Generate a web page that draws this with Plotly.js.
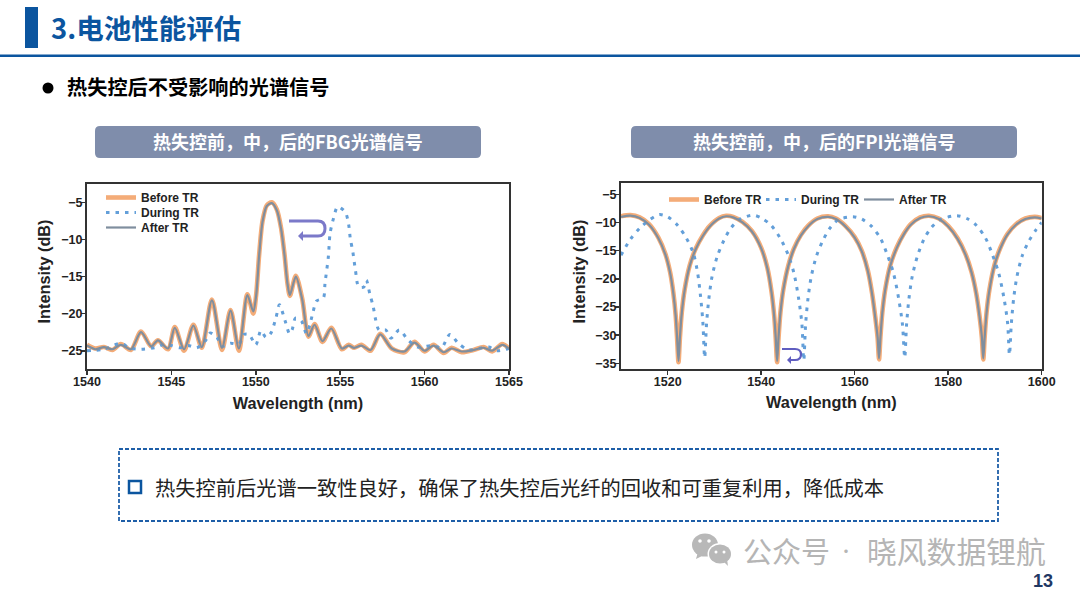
<!DOCTYPE html>
<html>
<head>
<meta charset="utf-8">
<script src="https://cdn.plot.ly/plotly-3.0.1.min.js"></script>
<style>
html, body { margin: 0; padding: 0; background: #fff; }
#chart { width: 1080px; height: 594px; }
</style>
</head>
<body>
<div id="chart"></div>
<script>
// FBG spectra
var fbgWave = [1540,1540.5,1541,1541.5,1542,1542.6,1543.2,1543.8,1544.2,1544.8,1545.2,1545.75,1546.3,1546.8,1547.4,1548,1548.5,1549,1549.5,1549.85,1550.02,1550.2,1550.4,1550.65,1550.95,1551.25,1551.5,1551.7,1551.88,1552.02,1552.37,1552.75,1553.12,1553.48,1553.95,1554.47,1555.1,1555.5,1555.83,1556.25,1556.8,1557.37,1558.06,1558.8,1559.4,1560,1560.53,1561.13,1561.6,1562.2,1562.9,1563.5,1564,1564.6,1565];
var fbgBefore = [-24.2,-24.7,-24.5,-24.9,-24.1,-24.9,-22.4,-24.4,-23.6,-24.8,-21.8,-25,-21.5,-24.6,-18.1,-24.9,-19.5,-25,-17.4,-20,-17.5,-12,-7.5,-5.4,-5,-6,-8.5,-12,-16,-17.6,-14.9,-18,-23.1,-21.4,-23.8,-21.9,-24.8,-24.2,-24.6,-24.2,-25,-22.7,-24.7,-25.2,-23.8,-25.1,-24.2,-25.3,-24.6,-25.2,-24.9,-24.5,-25.1,-24.1,-24.7];
var fbgAfter = [-24.3,-24.8,-24.5,-24.8,-24.2,-24.8,-22.5,-24.4,-23.6,-24.7,-21.9,-24.8,-21.6,-24.5,-18.2,-24.6,-19.6,-24.7,-17.5,-19.7,-17.6,-12.1,-7.6,-5.5,-5.1,-6.1,-8.6,-12.1,-16,-17.5,-15,-18.1,-23,-21.5,-23.7,-22,-24.7,-24.3,-24.6,-24.3,-24.9,-22.8,-24.7,-25.1,-23.9,-25,-24.3,-25.2,-24.7,-25.1,-24.9,-24.6,-25,-24.2,-24.7];
var fbgDuringWave = [1540,1541,1542,1542.5,1543,1544,1544.5,1545,1545.5,1546,1546.5,1547,1547.3,1547.7,1548,1548.5,1549,1549.3,1549.6,1550,1550.3,1550.6,1550.9,1551.2,1551.4,1551.74,1552,1552.15,1552.35,1552.7,1553,1553.2,1553.4,1553.6,1554,1554.1,1554.3,1554.4,1554.6,1554.85,1555.3,1555.5,1555.6,1555.75,1555.9,1556.1,1556.4,1556.55,1556.75,1556.95,1557.1,1557.3,1557.7,1558,1558.5,1559,1559.6,1560.5,1561,1561.5,1562,1562.6,1563.2,1563.8,1564.3,1565];
var fbgDuring = [-25,-24.8,-24,-24.6,-24.8,-24.6,-24.2,-24.3,-24.6,-24.3,-24.6,-23.7,-22.6,-23.2,-24.4,-24,-24.1,-22.8,-22.8,-24.2,-22.3,-23.2,-22.6,-20.5,-18.8,-21,-22.7,-22.2,-20.6,-21,-22.7,-21.5,-19.7,-18.3,-17.9,-15.9,-12.3,-9.2,-7.2,-5.6,-6.3,-8,-9.9,-11.7,-14.1,-16.4,-16.4,-15.5,-17.3,-19,-20.8,-22.2,-22.2,-23.3,-22.2,-23.5,-24.5,-24.3,-24.6,-22.8,-24,-24.9,-24.7,-24.5,-25,-24.7];

// FPI spectra
var fpiWave = [1510,1512,1514,1516,1518,1519.5,1520.5,1521.2,1521.7,1522,1522.3,1522.6,1523,1523.6,1524.7,1526,1527.5,1529,1531,1532.5,1534,1536,1538,1540,1541.3,1542.2,1542.8,1543.1,1543.4,1543.7,1544.1,1544.7,1545.8,1547,1548.5,1550,1552,1554.3,1556,1558,1560,1561.5,1562.8,1563.7,1564.4,1564.9,1565.2,1565.5,1565.9,1566.5,1567.6,1569,1570.5,1572,1574,1575.9,1578,1580,1582,1583.7,1585,1586,1586.7,1587.2,1587.5,1587.8,1588.2,1588.8,1589.9,1591.2,1592.7,1594.5,1596.5,1598.5,1600];
var fpiBefore = [-8.9,-8.7,-9.1,-10.3,-12.7,-15.6,-18.8,-22.5,-26.5,-30.5,-34.8,-30.5,-26,-22,-17.6,-14.6,-12.3,-10.6,-9.2,-8.8,-9,-9.9,-11.5,-14.5,-18,-22.3,-26.8,-30.5,-34.8,-30.5,-26,-22,-17.6,-14.6,-12.2,-10.6,-9.3,-8.9,-9.3,-10.6,-12.6,-15,-18.5,-22.5,-26.8,-30.5,-34.3,-30.3,-26,-22,-17.6,-14.4,-12,-10.3,-9.1,-8.8,-9.3,-10.6,-12.8,-15.6,-18.8,-22.6,-26.6,-30.4,-34.3,-30.3,-26,-22,-17.5,-14.4,-12,-10.3,-9.3,-9,-9.2];
var fpiAfter = [-9,-8.8,-9.2,-10.4,-12.8,-15.7,-18.9,-22.6,-26.6,-30.4,-34.6,-30.4,-26.1,-22.1,-17.7,-14.7,-12.4,-10.7,-9.3,-8.9,-9.1,-10,-11.6,-14.6,-18.1,-22.4,-26.9,-30.4,-34.6,-30.4,-26.1,-22.1,-17.7,-14.7,-12.3,-10.7,-9.4,-9,-9.4,-10.7,-12.7,-15.1,-18.6,-22.6,-26.9,-30.4,-34.1,-30.4,-26.1,-22.1,-17.7,-14.5,-12.1,-10.4,-9.2,-8.9,-9.4,-10.7,-12.9,-15.7,-18.9,-22.7,-26.7,-30.3,-34.1,-30.4,-26.1,-22.1,-17.6,-14.5,-12.1,-10.4,-9.4,-9.1,-9.3];
var fpiDuringWave = [1510,1512,1514,1516,1518.2,1520,1522,1524,1525.5,1526.4,1527,1527.5,1527.9,1528.3,1528.8,1529.5,1530.6,1532,1533.5,1535.5,1538.2,1540,1542,1544,1545.8,1547,1548,1548.7,1549.1,1549.5,1550,1550.7,1551.8,1553.2,1554.7,1556.5,1559.6,1561.5,1563.5,1565.5,1567,1568.3,1569.4,1570.2,1570.7,1571.1,1571.6,1572.3,1573.4,1574.8,1576.3,1578.3,1581.8,1584,1586,1588,1589.5,1590.8,1591.9,1592.7,1593.1,1593.5,1594,1594.7,1595.8,1597.2,1598.7,1600];
var fpiDuring = [-15.8,-13,-11,-9.6,-8.6,-9,-10.4,-12.8,-15.5,-19,-23,-27.5,-34,-28,-23.5,-19.5,-16,-13.2,-11,-9.4,-8.7,-9.2,-10.4,-12.7,-15.8,-19,-23.5,-28,-34.5,-28,-23.5,-19.6,-16,-13.2,-11,-9.5,-9,-9.4,-10.6,-12.8,-15.8,-19,-23.5,-28,-34,-28,-23.5,-19.6,-16,-13,-11,-9.5,-8.8,-9.3,-10.5,-12.8,-15.8,-19,-23.3,-27.8,-33.5,-28,-23.5,-19.6,-16,-13.4,-11.4,-10];

var beforeColor = '#F4AC78';
var duringColor = '#639FD9';
var afterColor = '#7F8E9E';
var blue = '#0B559F';
var cjk = '"Noto Sans CJK SC", "Noto Sans", sans-serif';
var latin = '"Liberation Sans", Arial, sans-serif';

function spectrum(x, y, xa, ya, name, color, width, dash, leg) {
	return {
		x: x, y: y, xaxis: xa, yaxis: ya,
		type: 'scatter', mode: 'lines', name: name,
		line: {color: color, width: width, dash: dash, shape: 'spline', smoothing: 0.8},
		legend: leg, showlegend: true, hoverinfo: 'skip'
	};
}

// one legend per entry: plotly will not pack rows as tightly as the original
var traces = [
	spectrum(fbgWave, fbgBefore, 'x', 'y', 'Before TR', beforeColor, 4.6, 'solid', 'legend'),
	spectrum(fbgDuringWave, fbgDuring, 'x', 'y', 'During TR', duringColor, 3, '3.5px,6px', 'legend2'),
	spectrum(fbgWave, fbgAfter, 'x', 'y', 'After TR', afterColor, 2.2, 'solid', 'legend3'),
	spectrum(fpiWave, fpiBefore, 'x2', 'y2', 'Before TR', beforeColor, 4.6, 'solid', 'legend4'),
	spectrum(fpiDuringWave, fpiDuring, 'x2', 'y2', 'During TR', duringColor, 3, '3.5px,6px', 'legend5'),
	spectrum(fpiWave, fpiAfter, 'x2', 'y2', 'After TR', afterColor, 2.2, 'solid', 'legend6')
];

function px(v) { return v / 1080; }
function py(v) { return 1 - v / 594; }

function axis(extra) {
	var a = {
		showgrid: false, zeroline: false, showline: true, mirror: true,
		linecolor: '#333', linewidth: 2, ticks: 'outside', ticklen: 4, tickwidth: 1.5, tickcolor: '#333',
		ticklabelstandoff: -4,
		tickfont: {family: latin, size: 12.5, color: '#222', weight: 'bold'}
	};
	for (var k in extra) a[k] = extra[k];
	return a;
}
function axTitle(text, standoff) {
	return {text: text, standoff: standoff, font: {family: latin, size: 16.3, color: '#222', weight: 'bold'}};
}
function legendAt(x, y) {
	return {x: px(x), y: py(y), xanchor: 'left', yanchor: 'top', bgcolor: 'rgba(0,0,0,0)',
		font: {family: latin, size: 12, color: '#222', weight: 'bold'}};
}

function rect(x0, y0, x1, y1, fill, line) {
	return {type: 'rect', xref: 'paper', yref: 'paper', x0: px(x0), x1: px(x1), y0: py(y0), y1: py(y1),
		fillcolor: fill, line: line || {width: 0}};
}
function circle(cx, cy, rx, ry, fill) {
	return {type: 'circle', xref: 'paper', yref: 'paper', x0: px(cx - rx), x1: px(cx + rx), y0: py(cy - ry), y1: py(cy + ry),
		fillcolor: fill, line: {width: 0}};
}
function pt(x, y) { return px(x).toFixed(5) + ' ' + py(y).toFixed(5); }
function banner(x0, y0, x1, y1, r, fill) {
	return {type: 'path', xref: 'paper', yref: 'paper', fillcolor: fill, line: {width: 0},
		path: 'M ' + pt(x0 + r, y0) + ' L ' + pt(x1 - r, y0) + ' Q ' + pt(x1, y0) + ' ' + pt(x1, y0 + r) +
			' L ' + pt(x1, y1 - r) + ' Q ' + pt(x1, y1) + ' ' + pt(x1 - r, y1) +
			' L ' + pt(x0 + r, y1) + ' Q ' + pt(x0, y1) + ' ' + pt(x0, y1 - r) +
			' L ' + pt(x0, y0 + r) + ' Q ' + pt(x0, y0) + ' ' + pt(x0 + r, y0) + ' Z'};
}
function label(x, y, text, size, color, anchor, family, weight, angle) {
	return {xref: 'paper', yref: 'paper', x: px(x), y: py(y), text: text, showarrow: false,
		xanchor: anchor || 'left', yanchor: 'middle', borderpad: 0, textangle: angle || 0,
		font: {family: family || cjk, size: size, color: color, weight: weight || 'normal'}};
}
function turnArrow(x0, x1, xc, yTop, yBot, tip, head, color, width) {
	var yMid = (yTop + yBot) / 2;
	return [
		{type: 'path', xref: 'paper', yref: 'paper', line: {color: color, width: width},
			path: 'M ' + pt(x0, yTop) + ' L ' + pt(x1, yTop) + ' Q ' + pt(xc, yTop) + ' ' + pt(xc, yMid) +
				' Q ' + pt(xc, yBot) + ' ' + pt(x1, yBot) + ' L ' + pt(tip + head, yBot)},
		{type: 'path', xref: 'paper', yref: 'paper', fillcolor: color, line: {width: 0},
			path: 'M ' + pt(tip, yBot) + ' L ' + pt(tip + head, yBot - head) + ' L ' + pt(tip + head, yBot + head) + ' Z'}
	];
}

var iconGray = '#B8B8B8';
var shapes = [
	rect(25, 7, 38, 48, blue),
	rect(0, 54.5, 1080, 57, blue),
	circle(48, 88, 5.5, 5.5, '#000'),
	banner(95, 126, 481, 158, 5, '#7F8DAB'),
	banner(631, 126, 1017, 158, 5, '#7F8DAB'),
	{type: 'rect', xref: 'paper', yref: 'paper', x0: px(119), x1: px(998), y0: py(449), y1: py(521),
		fillcolor: 'rgba(0,0,0,0)', line: {color: '#1F5FA8', width: 1.8, dash: '4px,2px'}},
	rect(129, 481, 141, 493, '#fff', {color: blue, width: 2.5}),
	// watermark icon
	circle(705, 545, 13, 11.5, iconGray),
	{type: 'path', xref: 'paper', yref: 'paper', fillcolor: iconGray, line: {width: 0},
		path: 'M ' + pt(698, 552) + ' L ' + pt(696, 559) + ' L ' + pt(704, 555) + ' Z'},
	circle(720, 554, 12.5, 11, '#fff'),
	circle(720, 554, 11, 9.5, iconGray),
	{type: 'path', xref: 'paper', yref: 'paper', fillcolor: iconGray, line: {width: 0},
		path: 'M ' + pt(723, 561) + ' L ' + pt(728, 566) + ' L ' + pt(727, 559) + ' Z'},
	circle(700, 541, 1.8, 1.8, '#fff'),
	circle(709, 541, 1.8, 1.8, '#fff'),
	circle(716, 552, 1.5, 1.5, '#fff'),
	circle(724, 552, 1.5, 1.5, '#fff')
];
shapes = shapes.concat(turnArrow(289, 318, 325, 221, 236, 298, 5, '#7B79C9', 3));
shapes = shapes.concat(turnArrow(782, 795, 801, 349, 360, 787, 4, '#5F5DC0', 2.2));

var annotations = [
	label(50, 27, '3.电池性能评估', 27.5, blue, 'left', cjk, 'bold'),
	label(65.5, 87, '热失控后不受影响的光谱信号', 20.2, '#000', 'left', cjk, 'bold'),
	label(288, 141, '热失控前，中，后的FBG光谱信号', 18, '#fff', 'center', cjk, 'bold'),
	label(824, 141, '热失控前，中，后的FPI光谱信号', 18, '#fff', 'center', cjk, 'bold'),
	label(153.5, 487, '热失控前后光谱一致性良好，确保了热失控后光纤的回收和可重复利用，降低成本', 20.25, '#222', 'left'),
	label(742, 550, '公众号', 29, '#B5B5B5', 'left'),
	label(846, 550, '·', 16, '#B5B5B5', 'center'),
	label(866, 550, '晓风数据锂航', 29.8, '#B5B5B5', 'left'),
	label(1054, 581, '13', 18, '#1F3864', 'right', latin, 'bold'),
	label(43, 271.5, 'Intensity (dB)', 16.3, '#222', 'center', latin, 'bold', -90),
	label(578, 271.5, 'Intensity (dB)', 16.3, '#222', 'center', latin, 'bold', -90)
];

var layout = {
	width: 1080, height: 594,
	margin: {l: 0, r: 0, t: 0, b: 0},
	paper_bgcolor: '#fff', plot_bgcolor: '#fff',
	xaxis: axis({domain: [px(87), px(509)], range: [1540, 1565], tickvals: [1540, 1545, 1550, 1555, 1560, 1565], title: axTitle('Wavelength (nm)', 9), anchor: 'y'}),
	yaxis: axis({domain: [py(369.3), py(184)], range: [-27.5, -2.53], tickvals: [-25, -20, -15, -10, -5], anchor: 'x'}),
	xaxis2: axis({domain: [px(621), px(1041.7)], range: [1510, 1600], tickvals: [1520, 1540, 1560, 1580, 1600], title: axTitle('Wavelength (nm)', 9), anchor: 'y2'}),
	yaxis2: axis({domain: [py(369), py(183.3)], range: [-36, -3.05], tickvals: [-35, -30, -25, -20, -15, -10, -5], anchor: 'x2'}),
	legend: legendAt(101, 183),
	legend2: legendAt(101, 198),
	legend3: legendAt(101, 213),
	legend4: legendAt(664, 185),
	legend5: legendAt(761, 185),
	legend6: legendAt(859, 185),
	shapes: shapes,
	annotations: annotations
};

Plotly.newPlot('chart', traces, layout, {staticPlot: true, displayModeBar: false});
</script>
</body>
</html>
